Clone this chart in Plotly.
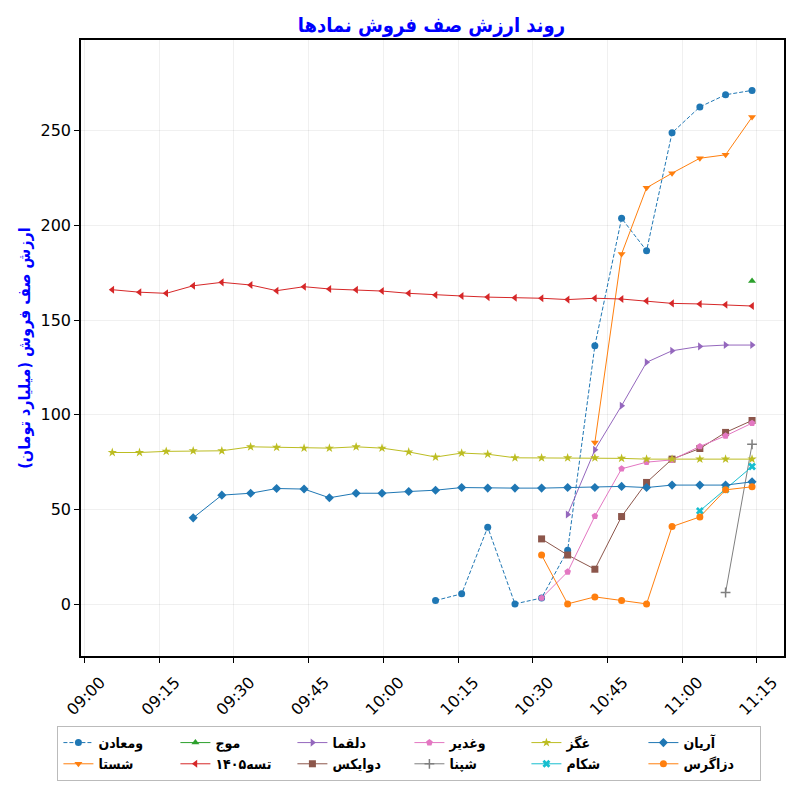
import plotly.graph_objects as go

times = ["2024-01-01 09:05:34", "2024-01-01 09:11:02", "2024-01-01 09:16:24", "2024-01-01 09:21:49",
         "2024-01-01 09:27:34", "2024-01-01 09:33:21", "2024-01-01 09:38:34", "2024-01-01 09:44:05",
         "2024-01-01 09:49:10", "2024-01-01 09:54:32", "2024-01-01 09:59:44", "2024-01-01 10:05:06",
         "2024-01-01 10:10:29", "2024-01-01 10:15:44", "2024-01-01 10:20:58", "2024-01-01 10:26:26",
         "2024-01-01 10:31:47", "2024-01-01 10:37:01", "2024-01-01 10:42:29", "2024-01-01 10:47:51",
         "2024-01-01 10:52:52", "2024-01-01 10:57:59", "2024-01-01 11:03:34", "2024-01-01 11:08:44",
         "2024-01-01 11:14:03"]

vmaaden = [None]*12 + [2.0, 5.5, 40.7, 0.2, 3.3, 28.5, 136.5, 203.7, 186.6, 248.8, 262.5, 268.9, 271.2]
shasta = [None]*18 + [85.4, 184.9, 219.8, 227.5, 235.4, 237.2, 257.1]
mowj = [None]*24 + [170.6]
tase1405 = [166.0, 164.7, 164.1, 168.1, 169.9, 168.5, 165.5, 167.6, 166.4, 166.0, 165.3, 164.1, 163.2,
            162.7, 162.1, 161.8, 161.5, 160.8, 161.5, 161.1, 160.1, 158.8, 158.5, 158.1, 157.4]
dalqama = [None]*17 + [47.4, 81.5, 104.8, 127.7, 133.8, 136.1, 136.8, 136.8]
davix = [None]*16 + [34.5, 26.0, 18.5, 46.3, 64.3, 76.6, 82.2, 90.7, 97.0]
vghadir = [None]*16 + [3.3, 17.1, 46.5, 71.5, 75.0, 76.2, 83.3, 88.9, 95.6]
shepna = [None]*23 + [6.2, 84.4]
ghegaz = [80.1, 80.1, 80.7, 81.0, 81.0, 83.1, 82.8, 82.4, 82.4, 83.1, 82.4, 80.4, 77.7,
          79.8, 79.2, 77.3, 77.3, 77.3, 77.3, 77.0, 76.6, 76.6, 76.6, 76.6, 76.6]
shekam = [None]*22 + [49.3, 60.6, 72.7]
aryan = [None]*3 + [45.6, 57.6, 58.6, 61.1, 60.8, 56.2, 58.6, 58.6, 59.5, 60.2, 61.6, 61.3, 61.3,
                    61.3, 61.6, 61.6, 62.2, 61.6, 62.9, 62.9, 62.9, 64.6]
dezagros = [None]*16 + [26.0, 0.2, 3.9, 2.0, 0.2, 41.0, 46.1, 60.4, 62.0]

series = [
    ("ومعادن", vmaaden, "#1f77b4", "circle", "4px,2px", 1),
    ("شستا", shasta, "#ff7f0e", "triangle-down", "solid", 7),
    ("موج", mowj, "#2ca02c", "triangle-up", "solid", 2),
    ("تسه۱۴۰۵", tase1405, "#d62728", "triangle-left", "solid", 8),
    ("دلقما", dalqama, "#9467bd", "triangle-right", "solid", 3),
    ("دوایکس", davix, "#8c564b", "square", "solid", 9),
    ("وغدیر", vghadir, "#e377c2", "pentagon", "solid", 4),
    ("شپنا", shepna, "#7f7f7f", "cross-thin", "solid", 10),
    ("غگز", ghegaz, "#bcbd22", "star", "solid", 5),
    ("شکام", shekam, "#17becf", "x", "solid", 11),
    ("آریان", aryan, "#1f77b4", "diamond", "solid", 6),
    ("دزاگرس", dezagros, "#ff7f0e", "circle", "solid", 12),
]

fig = go.Figure()
for name, vals, color, sym, dash, rank in series:
    marker = dict(symbol=sym, size=7, color=color)
    if sym == "cross-thin":
        marker = dict(symbol=sym, size=7, color=color, line=dict(width=1.5, color=color))
    fig.add_trace(go.Scatter(
        x=times, y=vals, name=name, mode="lines+markers",
        line=dict(color=color, width=1, dash=dash),
        marker=marker, legendrank=rank,
    ))

axis_common = dict(
    showline=True, linecolor="black", linewidth=1.5, mirror=True,
    ticks="outside", ticklen=5, tickcolor="black",
    showgrid=True, gridcolor="rgba(0,0,0,0.06)", gridwidth=1, zeroline=False,
    tickfont=dict(family="DejaVu Sans", size=16, color="black"),
    automargin=False,
)

fig.update_layout(
    width=784, height=784,
    paper_bgcolor="white", plot_bgcolor="white",
    margin=dict(l=73, r=8, t=32, b=136),
    title=dict(text="<b>روند ارزش صف فروش نمادها</b>", x=0.54, xref="container", xanchor="center",
               y=0.978, yref="container", yanchor="middle",
               font=dict(family="DejaVu Sans Condensed, DejaVu Sans", size=20, color="blue")),
    xaxis=dict(axis_common, type="date", range=["2024-01-01 08:59:17", "2024-01-01 11:20:28"],
               tick0="2024-01-01 09:00", dtick=15*60*1000, tickformat="%H:%M", tickangle=-45,
               ticklabelshift=16, ticklabelstandoff=4),
    yaxis=dict(axis_common, range=[-27.3, 297.8], tick0=0, dtick=50,
               title=dict(text="<b>ارزش صف فروش (میلیارد تومان)</b>", standoff=6,
                          font=dict(family="DejaVu Sans Condensed, DejaVu Sans", size=16, color="blue"))),
    legend=dict(orientation="h", xref="container", yref="container",
                x=0.512, xanchor="center", y=0.0842, yanchor="top",
                entrywidth=72, itemwidth=30, bordercolor="#bbbbbb", borderwidth=1,
                bgcolor="white", font=dict(family="DejaVu Sans Condensed, DejaVu Sans", size=14, color="black",
                                           weight="bold"),
                traceorder="normal"),
    showlegend=True,
)

fig.write_html("out.html")
